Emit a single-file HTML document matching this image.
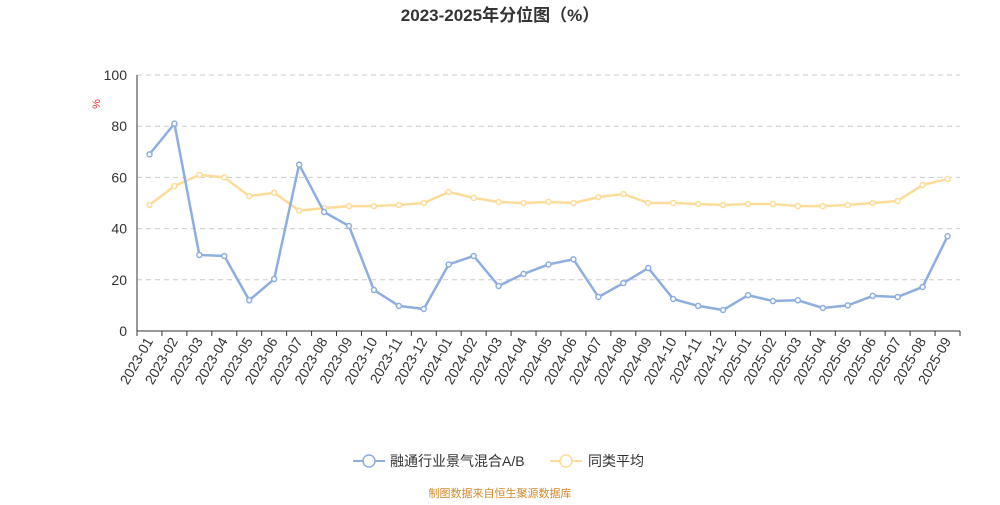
<!DOCTYPE html>
<html><head><meta charset="utf-8"><style>
body{margin:0;background:#fff;width:1000px;height:500px;overflow:hidden}
svg text{font-family:"Liberation Sans","Noto Sans CJK SC",sans-serif}
</style></head><body>
<svg id="c" width="1000" height="500">
<text x="500" y="21" text-anchor="middle" font-size="17" font-weight="bold" fill="#333">2023-2025年分位图（%）</text>
<text x="100" y="104" font-size="11" fill="#e33" transform="rotate(-90 100 104)" text-anchor="middle">%</text>
<g id="grid"></g><g id="xt"></g><g id="series"></g>
<g>
<g><line x1="353" y1="461" x2="385" y2="461" stroke="#8eaee0" stroke-width="2"/><circle cx="369" cy="461" r="6" fill="#fff" stroke="#8eaee0" stroke-width="1.5"/><text x="390" y="466" font-size="14" fill="#333">融通行业景气混合A/B</text></g>
<g><line x1="550" y1="461" x2="582" y2="461" stroke="#fddc9a" stroke-width="2"/><circle cx="566" cy="461" r="6" fill="#fff" stroke="#fddc9a" stroke-width="1.5"/><text x="588" y="466" font-size="14" fill="#333">同类平均</text></g>
</g>
<text x="500" y="497" text-anchor="middle" font-size="11" fill="#d08a2a">制图数据来自恒生聚源数据库</text>
</svg>
<script>
const categories=["2023-01","2023-02","2023-03","2023-04","2023-05","2023-06","2023-07","2023-08","2023-09","2023-10","2023-11","2023-12","2024-01","2024-02","2024-03","2024-04","2024-05","2024-06","2024-07","2024-08","2024-09","2024-10","2024-11","2024-12","2025-01","2025-02","2025-03","2025-04","2025-05","2025-06","2025-07","2025-08","2025-09"];
const fundValues=[69,81,29.7,29.3,12,20.3,65,46.5,41,16,9.8,8.6,26,29.3,17.6,22.3,26,28,13.3,18.7,24.6,12.5,9.8,8.2,14,11.7,12,9,10,13.7,13.3,17.2,37];
const avgValues=[49.2,56.6,61,60,52.7,54,47,48,48.8,48.8,49.2,50,54.3,52,50.4,50,50.4,50,52.3,53.5,50,50,49.6,49.2,49.6,49.6,48.8,48.8,49.2,50,50.8,57,59.4];
const yTicks=[0,20,40,60,80,100];
const NS="http://www.w3.org/2000/svg";
const L=137,R=960,T=75,B=331;
const bw=(R-L)/categories.length;
const xs=i=>L+bw*(i+0.5);
const ys=v=>B-(v/100)*(B-T);
function mk(tag,at,parent){const e=document.createElementNS(NS,tag);for(const k in at)e.setAttribute(k,at[k]);parent.appendChild(e);return e;}
const grid=document.getElementById('grid');
yTicks.forEach(v=>{
  const y=ys(v);
  if(v>0){const g=mk('line',{x1:L,x2:R,y1:y,y2:y,stroke:'#ccc','stroke-dasharray':'5,4'},grid);
  
  }
  const t=mk('text',{x:L-10,y:y+5,'text-anchor':'end','font-size':14,fill:'#333'},grid);t.textContent=v;
  
  
});
const ax=mk('line',{x1:L,x2:L,y1:T,y2:B,stroke:'#333'},grid);


const xa=mk('line',{x1:L,x2:R,y1:B,y2:B,stroke:'#333'},grid);


const xt=document.getElementById('xt');
categories.forEach((c,i)=>{
  const x=L+bw*i;
  mk('line',{x1:x,x2:x,y1:B,y2:B+5,stroke:'#333'},xt);
  const cx=xs(i);
  const t=mk('text',{x:cx+4,y:B+10,'text-anchor':'end','font-size':14,fill:'#333',transform:`rotate(-60 ${cx+4} ${B+10})`},xt);
  t.textContent=c;
  
  
});
mk('line',{x1:R,x2:R,y1:B,y2:B+5,stroke:'#333'},xt);
const sg=document.getElementById('series');
function draw(vals,color,name){
  const p=mk('polyline',{points:vals.map((v,i)=>xs(i)+','+ys(v)).join(' '),fill:'none',stroke:color,'stroke-width':2.5},sg);
  
  
  vals.forEach((v,i)=>{
    const c=mk('circle',{cx:xs(i),cy:ys(v),r:2.5,fill:'#fff',stroke:color,'stroke-width':1.5},sg);
    
    
  });
}
draw(avgValues,'#fddc9a','average');
draw(fundValues,'#8eaee0','fund');
</script>
</body></html>
